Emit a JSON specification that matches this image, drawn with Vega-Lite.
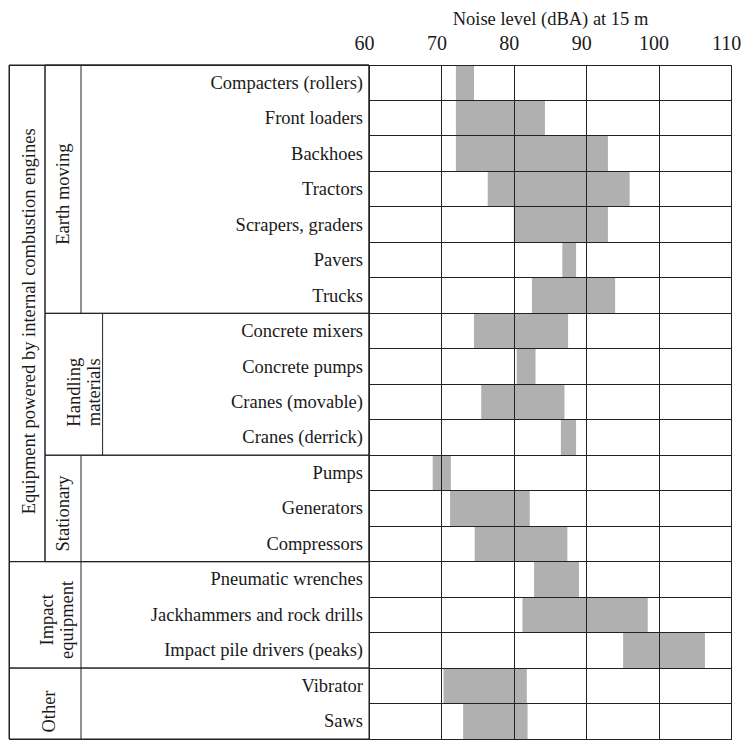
{
  "$schema": "https://vega.github.io/schema/vega-lite/v6.json",
  "autosize": {"type": "pad"},
  "padding": {"left": 8, "top": 8, "right": 5, "bottom": 5},
  "background": "white",
  "bounds": "flush",
  "spacing": 0,
  "config": {
    "font": "Liberation Serif",
    "view": {"stroke": "#222", "strokeWidth": 1}
  },
  "datasets": {
    "rows": [
      {"name": "Compacters (rollers)", "lo": 72, "hi": 74.5},
      {"name": "Front loaders", "lo": 72, "hi": 84.3},
      {"name": "Backhoes", "lo": 72, "hi": 93},
      {"name": "Tractors", "lo": 76.4, "hi": 96},
      {"name": "Scrapers, graders", "lo": 80, "hi": 93},
      {"name": "Pavers", "lo": 86.7, "hi": 88.6},
      {"name": "Trucks", "lo": 82.5, "hi": 94},
      {"name": "Concrete mixers", "lo": 74.5, "hi": 87.5},
      {"name": "Concrete pumps", "lo": 80.4, "hi": 83},
      {"name": "Cranes (movable)", "lo": 75.5, "hi": 87},
      {"name": "Cranes (derrick)", "lo": 86.5, "hi": 88.6},
      {"name": "Pumps", "lo": 68.8, "hi": 71.3},
      {"name": "Generators", "lo": 71.2, "hi": 82.2},
      {"name": "Compressors", "lo": 74.6, "hi": 87.4},
      {"name": "Pneumatic wrenches", "lo": 82.8, "hi": 89},
      {"name": "Jackhammers and rock drills", "lo": 81.2, "hi": 98.5},
      {"name": "Impact pile drivers (peaks)", "lo": 95.1, "hi": 106.4},
      {"name": "Vibrator", "lo": 70.3, "hi": 81.8},
      {"name": "Saws", "lo": 73, "hi": 81.9}
    ],
    "groups": [
      {"group": "Equipment powered by internal combustion engines", "first": "Compacters (rollers)", "last": "Compressors", "col": 0, "colEnd": 1, "mid": 0.55, "center": "Concrete mixers", "at": "start"},
      {"group": "Earth moving", "first": "Compacters (rollers)", "last": "Trucks", "col": 1, "colEnd": 2, "mid": 1.5, "center": "Tractors", "at": "mid"},
      {"group": "Handling\nmaterials", "first": "Concrete mixers", "last": "Cranes (derrick)", "col": 1, "colEnd": 2.6, "mid": 1.8, "center": "Cranes (movable)", "at": "start"},
      {"group": "Stationary", "first": "Pumps", "last": "Compressors", "col": 1, "colEnd": 2, "mid": 1.5, "center": "Generators", "at": "mid"},
      {"group": "Impact\nequipment", "first": "Pneumatic wrenches", "last": "Impact pile drivers (peaks)", "col": 0, "colEnd": 2, "mid": 1.05, "center": "Jackhammers and rock drills", "at": "mid"},
      {"group": "Other", "first": "Vibrator", "last": "Saws", "col": 0, "colEnd": 2, "mid": 1.1, "center": "Saws", "at": "start"}
    ]
  },
  "hconcat": [
    {
      "width": 360,
      "height": 674,
      "layer": [
        {
          "data": {"name": "groups"},
          "mark": {"type": "rect", "fill": "white", "fillOpacity": 0, "stroke": "#222", "strokeWidth": 1},
          "encoding": {
            "x": {"field": "col", "type": "quantitative", "scale": {"domain": [0, 10]}, "axis": null},
            "x2": {"datum": 10},
            "y": {"field": "first", "type": "nominal", "bandPosition": 0, "axis": null,
                  "scale": {"domain": ["Compacters (rollers)", "Front loaders", "Backhoes", "Tractors", "Scrapers, graders", "Pavers", "Trucks", "Concrete mixers", "Concrete pumps", "Cranes (movable)", "Cranes (derrick)", "Pumps", "Generators", "Compressors", "Pneumatic wrenches", "Jackhammers and rock drills", "Impact pile drivers (peaks)", "Vibrator", "Saws"], "paddingInner": 0, "paddingOuter": 0}},
            "y2": {"field": "last", "bandPosition": 1}
          }
        },
        {
          "data": {"name": "groups"},
          "mark": {"type": "rule", "color": "#222", "strokeWidth": 1},
          "encoding": {
            "x": {"field": "colEnd", "type": "quantitative"},
            "y": {"field": "first", "type": "nominal", "bandPosition": 0},
            "y2": {"field": "last", "bandPosition": 1}
          }
        },
        {
          "data": {"name": "groups"},
          "transform": [{"filter": "datum.at === 'mid'"}],
          "mark": {"type": "text", "angle": 270, "align": "center", "baseline": "middle", "fontSize": 18.5, "lineBreak": "\n", "lineHeight": 20, "dx": -5, "color": "#1a1a1a"},
          "encoding": {
            "x": {"field": "mid", "type": "quantitative"},
            "y": {"field": "center", "type": "nominal", "bandPosition": 0.5},
            "text": {"field": "group"}
          }
        },
        {
          "data": {"name": "groups"},
          "transform": [{"filter": "datum.at === 'start'"}],
          "mark": {"type": "text", "angle": 270, "align": "center", "baseline": "middle", "fontSize": 18.5, "lineBreak": "\n", "lineHeight": 20, "dx": -8, "color": "#1a1a1a"},
          "encoding": {
            "x": {"field": "mid", "type": "quantitative"},
            "y": {"field": "center", "type": "nominal", "bandPosition": 0},
            "text": {"field": "group"}
          }
        },
        {
          "data": {"name": "rows"},
          "mark": {"type": "text", "align": "right", "baseline": "middle", "fontSize": 18.5, "dx": -6, "color": "#1a1a1a"},
          "encoding": {
            "x": {"datum": 10},
            "y": {"field": "name", "type": "nominal"},
            "text": {"field": "name"}
          }
        }
      ]
    },
    {
      "width": 362,
      "height": 674,
      "data": {"name": "rows"},
      "mark": {"type": "bar", "color": "#b0b0b0"},
      "encoding": {
        "x": {"field": "lo", "type": "quantitative",
              "scale": {"domain": [60, 110], "nice": false, "zero": false},
              "axis": {"orient": "top", "values": [60, 70, 80, 90, 100, 110], "grid": true, "gridColor": "#222", "gridOpacity": 1, "gridWidth": 1,
                       "ticks": false, "domain": false, "labelFontSize": 20, "labelColor": "#1a1a1a", "labelPadding": 12, "labelOffset": -5, "labelFlush": false, "labelOverlap": false,
                       "title": "Noise level (dBA) at 15 m", "titleFontSize": 18.5, "titleFontWeight": "normal", "titleColor": "#1a1a1a", "titlePadding": 5, "zindex": 1}},
        "x2": {"field": "hi"},
        "y": {"field": "name", "type": "nominal", "sort": null,
              "scale": {"domain": ["Compacters (rollers)", "Front loaders", "Backhoes", "Tractors", "Scrapers, graders", "Pavers", "Trucks", "Concrete mixers", "Concrete pumps", "Cranes (movable)", "Cranes (derrick)", "Pumps", "Generators", "Compressors", "Pneumatic wrenches", "Jackhammers and rock drills", "Impact pile drivers (peaks)", "Vibrator", "Saws"], "paddingInner": 0, "paddingOuter": 0},
              "axis": {"grid": true, "bandPosition": 0, "gridColor": "#222", "gridOpacity": 1, "gridWidth": 1, "labels": false, "ticks": false, "domain": false, "title": null, "zindex": 1}}
      }
    }
  ]
}
